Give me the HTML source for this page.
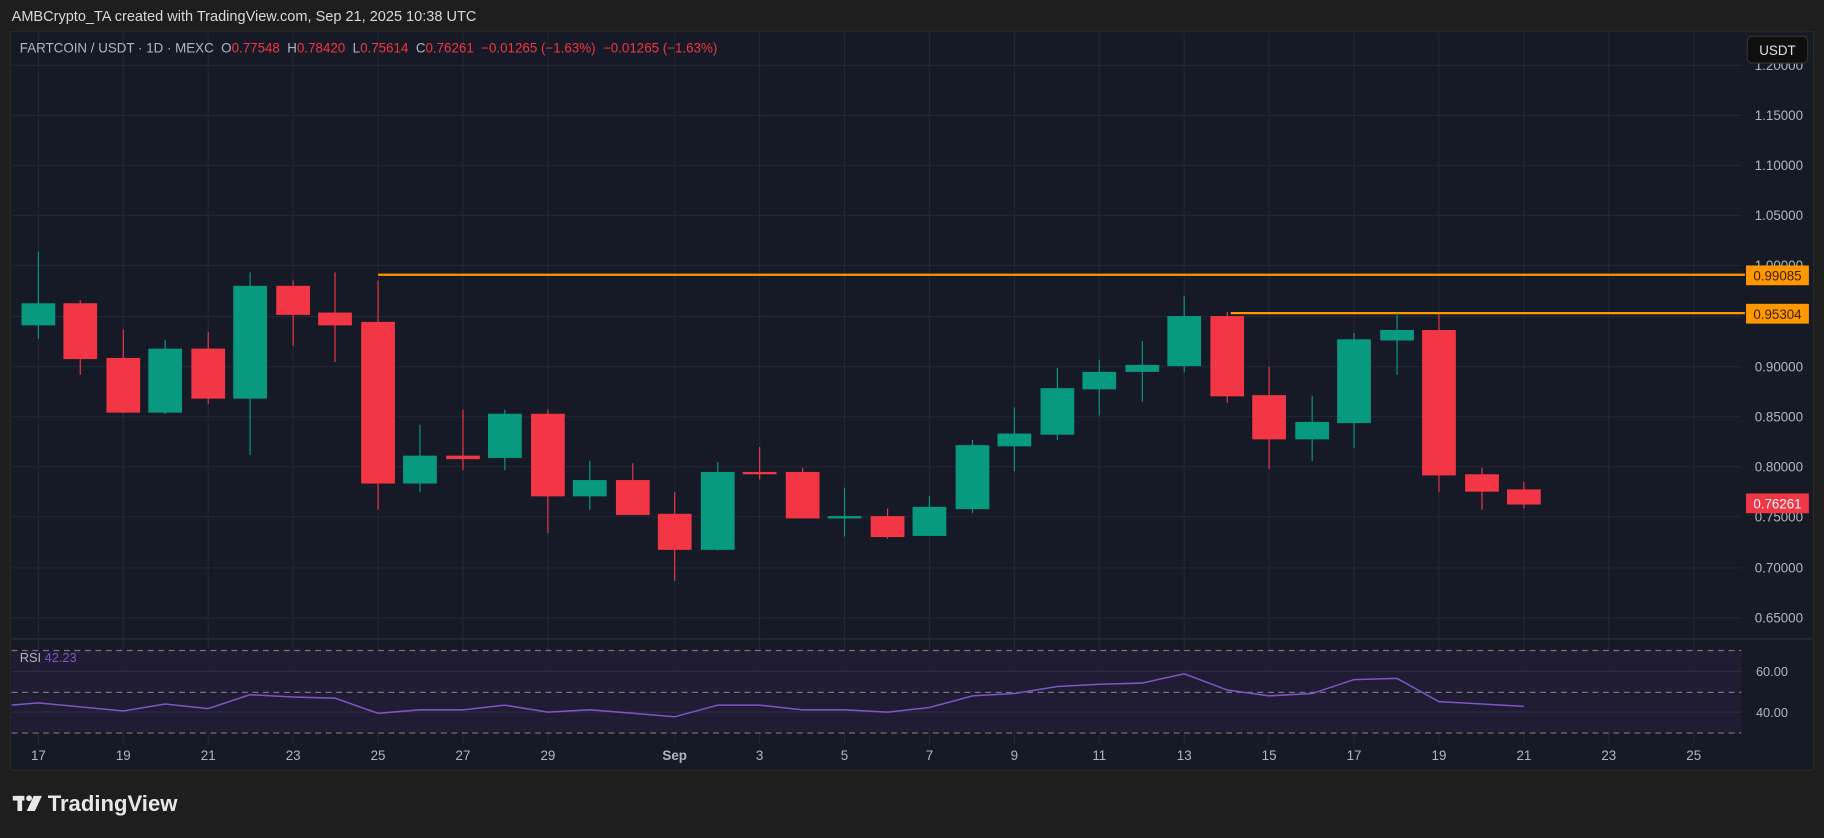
<!DOCTYPE html>
<html><head><meta charset="utf-8"><style>
html,body{margin:0;padding:0;background:#1e1e1e;}
svg{display:block}
text{font-family:"Liberation Sans",sans-serif;}
</style></head><body>
<svg width="1824" height="838" viewBox="0 0 1568 720" xmlns="http://www.w3.org/2000/svg">
<rect x="0" y="0" width="1568" height="720" fill="#1e1e1e"/>
<text x="10" y="18" font-size="12.5" fill="#d8d8d8">AMBCrypto_TA created with TradingView.com, Sep 21, 2025 10:38 UTC</text>
<rect x="9" y="27" width="1550" height="635" fill="#161a25" stroke="#2a2a2a"/>
<rect x="10" y="28" width="1487" height="520" fill="#161a26"/>
<g stroke="#232735" stroke-width="1">
<line x1="10" x2="1497" y1="56" y2="56"/><line x1="10" x2="1497" y1="99" y2="99"/><line x1="10" x2="1497" y1="142" y2="142"/><line x1="10" x2="1497" y1="185" y2="185"/><line x1="10" x2="1497" y1="228" y2="228"/><line x1="10" x2="1497" y1="272" y2="272"/><line x1="10" x2="1497" y1="315" y2="315"/><line x1="10" x2="1497" y1="358" y2="358"/><line x1="10" x2="1497" y1="401" y2="401"/><line x1="10" x2="1497" y1="444" y2="444"/><line x1="10" x2="1497" y1="488" y2="488"/><line x1="10" x2="1497" y1="531" y2="531"/>
<line x1="33" x2="33" y1="28" y2="640"/><line x1="106" x2="106" y1="28" y2="640"/><line x1="179" x2="179" y1="28" y2="640"/><line x1="252" x2="252" y1="28" y2="640"/><line x1="325" x2="325" y1="28" y2="640"/><line x1="398" x2="398" y1="28" y2="640"/><line x1="471" x2="471" y1="28" y2="640"/><line x1="580" x2="580" y1="28" y2="640"/><line x1="653" x2="653" y1="28" y2="640"/><line x1="726" x2="726" y1="28" y2="640"/><line x1="799" x2="799" y1="28" y2="640"/><line x1="872" x2="872" y1="28" y2="640"/><line x1="945" x2="945" y1="28" y2="640"/><line x1="1018" x2="1018" y1="28" y2="640"/><line x1="1091" x2="1091" y1="28" y2="640"/><line x1="1164" x2="1164" y1="28" y2="640"/><line x1="1237" x2="1237" y1="28" y2="640"/><line x1="1310" x2="1310" y1="28" y2="640"/><line x1="1383" x2="1383" y1="28" y2="640"/><line x1="1456" x2="1456" y1="28" y2="640"/>
</g>
<text x="17" y="45" font-size="11.5" fill="#b2b5be" xml:space="preserve">FARTCOIN / USDT · 1D · MEXC  O<tspan fill="#f23645">0.77548</tspan>  H<tspan fill="#f23645">0.78420</tspan>  L<tspan fill="#f23645">0.75614</tspan>  C<tspan fill="#f23645">0.76261  −0.01265 (−1.63%)  −0.01265 (−1.63%)</tspan></text>
<line x1="325" x2="1500" y1="236" y2="236" stroke="#ff9800" stroke-width="2"/>
<line x1="1058" x2="1500" y1="269" y2="269" stroke="#ff9800" stroke-width="2"/>
<g stroke="#089981" fill="#089981">
<line x1="33" x2="33" y1="216" y2="291"/><rect x="19" y="261" width="28" height="18"/>
<line x1="142" x2="142" y1="292" y2="356"/><rect x="128" y="300" width="28" height="54"/>
<line x1="215" x2="215" y1="234" y2="391"/><rect x="201" y="246" width="28" height="96"/>
<line x1="361" x2="361" y1="365" y2="423"/><rect x="347" y="392" width="28" height="23"/>
<line x1="434" x2="434" y1="352" y2="404"/><rect x="420" y="356" width="28" height="37"/>
<line x1="507" x2="507" y1="396" y2="438"/><rect x="493" y="413" width="28" height="13"/>
<line x1="617" x2="617" y1="397" y2="473"/><rect x="603" y="406" width="28" height="66"/>
<line x1="726" x2="726" y1="419" y2="461"/><rect x="712" y="444" width="28" height="1"/>
<line x1="799" x2="799" y1="426" y2="460"/><rect x="785" y="436" width="28" height="24"/>
<line x1="836" x2="836" y1="378" y2="441"/><rect x="822" y="383" width="28" height="54"/>
<line x1="872" x2="872" y1="350" y2="405"/><rect x="858" y="373" width="28" height="10"/>
<line x1="909" x2="909" y1="316" y2="378"/><rect x="895" y="334" width="28" height="39"/>
<line x1="945" x2="945" y1="309" y2="357"/><rect x="931" y="320" width="28" height="14"/>
<line x1="982" x2="982" y1="293" y2="345"/><rect x="968" y="314" width="28" height="5"/>
<line x1="1018" x2="1018" y1="254" y2="320"/><rect x="1004" y="272" width="28" height="42"/>
<line x1="1128" x2="1128" y1="340" y2="396"/><rect x="1114" y="363" width="28" height="14"/>
<line x1="1164" x2="1164" y1="286" y2="385"/><rect x="1150" y="292" width="28" height="71"/>
<line x1="1201" x2="1201" y1="269" y2="322"/><rect x="1187" y="284" width="28" height="8"/>
</g>
<g stroke="#f23645" fill="#f23645">
<line x1="69" x2="69" y1="258" y2="322"/><rect x="55" y="261" width="28" height="47"/>
<line x1="106" x2="106" y1="283" y2="355"/><rect x="92" y="308" width="28" height="46"/>
<line x1="179" x2="179" y1="285" y2="347"/><rect x="165" y="300" width="28" height="42"/>
<line x1="252" x2="252" y1="241" y2="297"/><rect x="238" y="246" width="28" height="24"/>
<line x1="288" x2="288" y1="234" y2="311"/><rect x="274" y="269" width="28" height="10"/>
<line x1="325" x2="325" y1="241" y2="438"/><rect x="311" y="277" width="28" height="138"/>
<line x1="398" x2="398" y1="352" y2="404"/><rect x="384" y="392" width="28" height="2"/>
<line x1="471" x2="471" y1="352" y2="458"/><rect x="457" y="356" width="28" height="70"/>
<line x1="544" x2="544" y1="398" y2="442"/><rect x="530" y="413" width="28" height="29"/>
<line x1="580" x2="580" y1="423" y2="499"/><rect x="566" y="442" width="28" height="30"/>
<line x1="653" x2="653" y1="384" y2="412"/><rect x="639" y="406" width="28" height="1"/>
<line x1="690" x2="690" y1="402" y2="445"/><rect x="676" y="406" width="28" height="39"/>
<line x1="763" x2="763" y1="437" y2="463"/><rect x="749" y="444" width="28" height="17"/>
<line x1="1055" x2="1055" y1="268" y2="346"/><rect x="1041" y="272" width="28" height="68"/>
<line x1="1091" x2="1091" y1="315" y2="403"/><rect x="1077" y="340" width="28" height="37"/>
<line x1="1237" x2="1237" y1="270" y2="423"/><rect x="1223" y="284" width="28" height="124"/>
<line x1="1274" x2="1274" y1="402" y2="438"/><rect x="1260" y="408" width="28" height="14"/>
<line x1="1310" x2="1310" y1="414" y2="437"/><rect x="1296" y="421" width="28" height="12"/>
</g>
<g font-size="11.5" fill="#b2b5be" text-anchor="end">
<text x="1550" y="60">1.20000</text><text x="1550" y="103">1.15000</text><text x="1550" y="146">1.10000</text><text x="1550" y="189">1.05000</text><text x="1550" y="232">1.00000</text><text x="1550" y="319">0.90000</text><text x="1550" y="362">0.85000</text><text x="1550" y="405">0.80000</text><text x="1550" y="448">0.75000</text><text x="1550" y="492">0.70000</text><text x="1550" y="535">0.65000</text>
</g>
<rect x="1502" y="31" width="52" height="23" rx="4" fill="#0f0f0f" stroke="#333"/>
<text x="1528" y="47" font-size="11.5" fill="#e0e0e0" text-anchor="middle">USDT</text>
<rect x="1501" y="228" width="54" height="17" fill="#ff9800"/><text x="1528" y="241" font-size="11.5" fill="#3a2200" text-anchor="middle">0.99085</text>
<rect x="1501" y="261" width="54" height="17" fill="#ff9800"/><text x="1528" y="274" font-size="11.5" fill="#3a2200" text-anchor="middle">0.95304</text>
<rect x="1501" y="424" width="54" height="17" fill="#f23645"/><text x="1528" y="437" font-size="11.5" fill="#fff" text-anchor="middle">0.76261</text>
<line x1="10" x2="1558" y1="549" y2="549" stroke="#2a2e39"/>
<rect x="10" y="559" width="1487" height="71" fill="#211d36" opacity="0.9"/>
<g stroke="#777" stroke-dasharray="5,4" stroke-width="1"><line x1="10" x2="1497" y1="559" y2="559"/><line x1="10" x2="1497" y1="595" y2="595"/><line x1="10" x2="1497" y1="630" y2="630"/></g>
<g stroke="#2e2b45"><line x1="10" x2="1497" y1="577" y2="577"/><line x1="10" x2="1497" y1="612" y2="612"/></g>
<text x="17" y="569" font-size="11" fill="#b2b5be">RSI <tspan fill="#7e57c2">42.23</tspan></text>
<polyline fill="none" stroke="#7e57c2" stroke-width="1.3" points="10,606 33,604 106,611 142,605 179,609 215,597 252,599 288,600 325,613 361,610 398,610 434,606 471,612 507,610 544,613 580,616 617,606 653,606 690,610 726,610 763,612 799,608 836,598 872,596 909,590 945,588 982,587 1018,579 1055,593 1091,598 1128,596 1164,584 1201,583 1237,603 1274,605 1310,607"/>
<g font-size="11" fill="#b2b5be" text-anchor="end"><text x="1537" y="581">60.00</text><text x="1537" y="616">40.00</text></g>
<g font-size="11.5" fill="#b2b5be" text-anchor="middle">
<text x="33" y="653">17</text><text x="106" y="653">19</text><text x="179" y="653">21</text><text x="252" y="653">23</text><text x="325" y="653">25</text><text x="398" y="653">27</text><text x="471" y="653">29</text><text x="580" y="653" font-weight="bold">Sep</text><text x="653" y="653">3</text><text x="726" y="653">5</text><text x="799" y="653">7</text><text x="872" y="653">9</text><text x="945" y="653">11</text><text x="1018" y="653">13</text><text x="1091" y="653">15</text><text x="1164" y="653">17</text><text x="1237" y="653">19</text><text x="1310" y="653">21</text><text x="1383" y="653">23</text><text x="1456" y="653">25</text>
</g>
<g fill="#e8e8e8">
<rect x="11" y="684" width="10" height="4"/><rect x="15" y="684" width="4" height="13"/>
<circle cx="25" cy="686" r="2.5"/><polygon points="29,684 36,684 30,697 23,697"/>
</g>
<text x="41" y="697" font-size="19" font-weight="bold" fill="#e8e8e8">TradingView</text>
</svg>
</body></html>
